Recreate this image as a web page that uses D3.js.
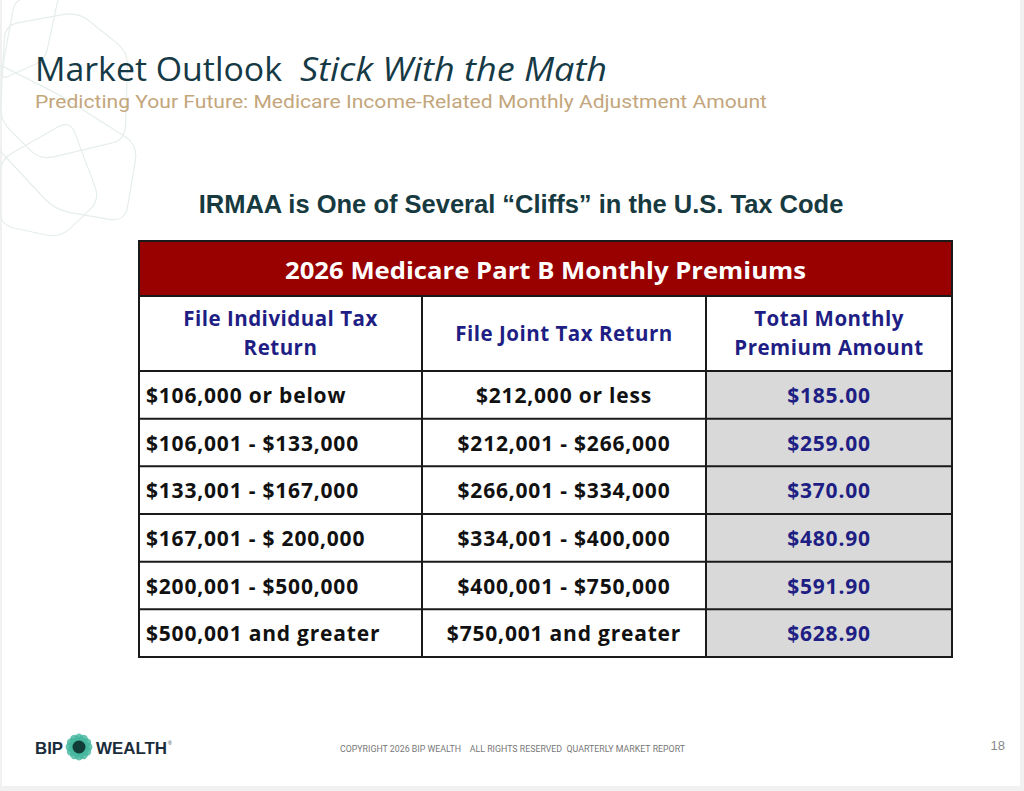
<!DOCTYPE html>
<html><head><meta charset="utf-8">
<script src="https://cdn.jsdelivr.net/npm/d3@7"></script>
<style>
html,body{margin:0;padding:0;background:#fff;}
svg{display:block;}
</style></head>
<body>
<svg id="c" width="1024" height="791"></svg>
<script>
// ---- data ----
const titleMain = "Market Outlook";
const titleItalic = "Stick With the Math";
const subtitle = "Predicting Your Future:  Medicare Income-Related Monthly Adjustment Amount";
const chartTitle = "IRMAA is One of Several \u201CCliffs\u201D in the U.S. Tax Code";
const tableTitle = "2026 Medicare Part B Monthly Premiums";
const columnHeaders = [["File Individual Tax", "Return"], ["File Joint Tax Return"], ["Total Monthly", "Premium Amount"]];
const individualBrackets = ["$106,000 or below", "$106,001 - $133,000", "$133,001 - $167,000", "$167,001 - $ 200,000", "$200,001 - $500,000", "$500,001 and greater"];
const jointBrackets = ["$212,000 or less", "$212,001 - $266,000", "$266,001 - $334,000", "$334,001 - $400,000", "$400,001 - $750,000", "$750,001 and greater"];
const premiums = [185.00, 259.00, 370.00, 480.90, 591.90, 628.90];
const footerText = "COPYRIGHT 2026 BIP WEALTH    ALL RIGHTS RESERVED  QUARTERLY MARKET REPORT";
const pageNumber = "18";

// ---- drawing ----
const svg = d3.select("#c");
svg.append("rect").attr("x",0).attr("y",0).attr("width",1024).attr("height",791).attr("fill","#f1f1f1");
svg.append("rect").attr("x",2).attr("y",0).attr("width",1018).attr("height",786).attr("fill","#ffffff");

// decorative background shapes
const deco = svg.append("g").attr("fill","none").attr("stroke","#e6eeeb").attr("stroke-width",1.2);
function roundedPoly(pts, r){
  const n = pts.length; let d = "";
  for(let i=0;i<n;i++){
    const p0=pts[(i-1+n)%n], p1=pts[i], p2=pts[(i+1)%n];
    const v1=[p0[0]-p1[0],p0[1]-p1[1]], v2=[p2[0]-p1[0],p2[1]-p1[1]];
    const l1=Math.hypot(...v1), l2=Math.hypot(...v2);
    const a=[p1[0]+v1[0]/l1*r,p1[1]+v1[1]/l1*r], b=[p1[0]+v2[0]/l2*r,p1[1]+v2[1]/l2*r];
    d += (i===0?"M":"L")+a[0]+","+a[1]+" Q"+p1[0]+","+p1[1]+" "+b[0]+","+b[1];
  }
  return d+"Z";
}
deco.append("path").attr("d", roundedPoly([[5,25],[78,12],[128,52],[125,140],[40,160],[0,120]],14));
deco.append("path").attr("d", roundedPoly([[-10,60],[60,95],[138,145],[125,222],[55,210],[-10,140]],16));
deco.append("path").attr("d", roundedPoly([[15,0],[60,-10],[45,60],[0,80]],10));
deco.append("path").attr("d", roundedPoly([[0,160],[70,120],[100,200],[60,238],[0,225]],14));

// titles
const titleFont = (s)=> s.attr("fill","#163a45").style("font-family","'Open Sans', sans-serif").style("font-size","33px");
svg.append("text").attr("x",35).attr("y",81).call(titleFont).attr("textLength",247).attr("lengthAdjust","spacingAndGlyphs").text(titleMain);
svg.append("text").attr("x",300).attr("y",81).call(titleFont).style("font-style","italic").attr("textLength",307).attr("lengthAdjust","spacingAndGlyphs").text(titleItalic);

svg.append("text").attr("x",35).attr("y",108).attr("fill","#c3a67c")
  .style("font-family","Roboto, sans-serif").style("font-size","19px")
  .attr("textLength",732).attr("lengthAdjust","spacingAndGlyphs").text(subtitle);

svg.append("text").attr("x",521).attr("y",213).attr("text-anchor","middle").attr("fill","#173a40")
  .style("font-family","'Liberation Sans', Arial, sans-serif").style("font-weight","bold").style("font-size","25.5px")
  .text(chartTitle);

// table geometry
const tableLeft = 139, tableRight = 952, tableTop = 241, titleBottom = 296, headBottom = 371, tableBottom = 657;
const colEdges = [tableLeft, 422, 706, tableRight];
const y = d3.scaleBand().domain(d3.range(premiums.length)).range([headBottom, tableBottom]);
const fmt = d3.format("$,.2f");

const tbl = svg.append("g");
tbl.append("rect").attr("x",tableLeft).attr("y",tableTop).attr("width",tableRight-tableLeft).attr("height",titleBottom-tableTop).attr("fill","#990000");
tbl.append("text").attr("x",(tableLeft+tableRight)/2).attr("y",279).attr("text-anchor","middle").attr("fill","#fff")
  .style("font-family","'Open Sans', sans-serif").style("font-weight","700").style("font-size","24px")
  .attr("textLength",521).attr("lengthAdjust","spacingAndGlyphs").text(tableTitle);

tbl.selectAll("rect.prem").data(premiums).join("rect").attr("class","prem")
  .attr("x",colEdges[2]).attr("y",(d,i)=>y(i)).attr("width",colEdges[3]-colEdges[2]).attr("height",y.bandwidth()).attr("fill","#d9d9d9");

columnHeaders.forEach((lines,ci)=>{
  const cx=(colEdges[ci]+colEdges[ci+1])/2, cy=(titleBottom+headBottom)/2;
  const lh=29;
  lines.forEach((ln,li)=>{
    tbl.append("text").attr("x",cx).attr("y",cy + (li-(lines.length-1)/2)*lh + 7).attr("text-anchor","middle")
      .attr("fill","#1e1e84").style("font-family","'Open Sans', sans-serif").style("font-weight","700")
      .style("font-size","20.5px").style("letter-spacing","0.5px").text(ln);
  });
});

const bodyFont = (s)=> s.style("font-family","'Open Sans', sans-serif").style("font-weight","700").style("font-size","21px").style("letter-spacing","0.8px");
tbl.selectAll("text.ind").data(individualBrackets).join("text").attr("class","ind")
  .attr("x",colEdges[0]+7).attr("y",(d,i)=>y(i)+y.bandwidth()/2+8).attr("fill","#111").call(bodyFont).text(d=>d);
tbl.selectAll("text.joint").data(jointBrackets).join("text").attr("class","joint")
  .attr("x",(colEdges[1]+colEdges[2])/2).attr("y",(d,i)=>y(i)+y.bandwidth()/2+8).attr("text-anchor","middle").attr("fill","#111").call(bodyFont).text(d=>d);
tbl.selectAll("text.pv").data(premiums).join("text").attr("class","pv")
  .attr("x",(colEdges[2]+colEdges[3])/2).attr("y",(d,i)=>y(i)+y.bandwidth()/2+8).attr("text-anchor","middle").attr("fill","#1e1e84").call(bodyFont).text(d=>fmt(d));

// grid lines
const gl = tbl.append("g").attr("stroke","#1a1a1a").attr("stroke-width",2);
[headBottom, ...d3.range(1,premiums.length).map(i=>y(i))].forEach(yy=>{
  gl.append("line").attr("x1",tableLeft).attr("x2",tableRight).attr("y1",yy).attr("y2",yy);
});
gl.append("line").attr("x1",tableLeft).attr("x2",tableRight).attr("y1",titleBottom).attr("y2",titleBottom);
[colEdges[1],colEdges[2]].forEach(xx=>{
  gl.append("line").attr("x1",xx).attr("x2",xx).attr("y1",titleBottom).attr("y2",tableBottom);
});
gl.append("rect").attr("x",tableLeft).attr("y",tableTop).attr("width",tableRight-tableLeft).attr("height",tableBottom-tableTop).attr("fill","none");

// footer logo
const logo = svg.append("g");
const logoFont = (s)=> s.style("font-family","'Liberation Sans', Arial, sans-serif").style("font-weight","bold").style("font-size","17px").attr("fill","#1b2d3b");
logo.append("text").attr("x",35).attr("y",754).call(logoFont).attr("textLength",28).attr("lengthAdjust","spacingAndGlyphs").text("BIP");
const em = logo.append("g").attr("transform","translate(79,747)");
d3.range(12).forEach(k=>{
  em.append("ellipse").attr("cx",0).attr("cy",-7).attr("rx",5).attr("ry",6.5).attr("fill","#41b59c").attr("opacity",0.8)
    .attr("transform","rotate("+(k*30)+")");
});
em.append("circle").attr("r",6.5).attr("fill","#123c37");
logo.append("text").attr("x",96).attr("y",754).call(logoFont).attr("textLength",71).attr("lengthAdjust","spacingAndGlyphs").text("WEALTH");
logo.append("text").attr("x",168).attr("y",745).style("font-family","Arial").style("font-size","5px").attr("fill","#1b2d3b").text("\u00AE");

svg.append("text").attr("x",340).attr("y",752).attr("fill","#777")
  .style("font-family","Roboto, sans-serif").style("font-size","8.5px")
  .attr("textLength",345).attr("lengthAdjust","spacingAndGlyphs").attr("xml:space","preserve").text(footerText);

svg.append("text").attr("x",1005).attr("y",750).attr("text-anchor","end").attr("fill","#888")
  .style("font-family","'Liberation Sans', Arial, sans-serif").style("font-size","13px").text(pageNumber);
</script>
</body></html>
